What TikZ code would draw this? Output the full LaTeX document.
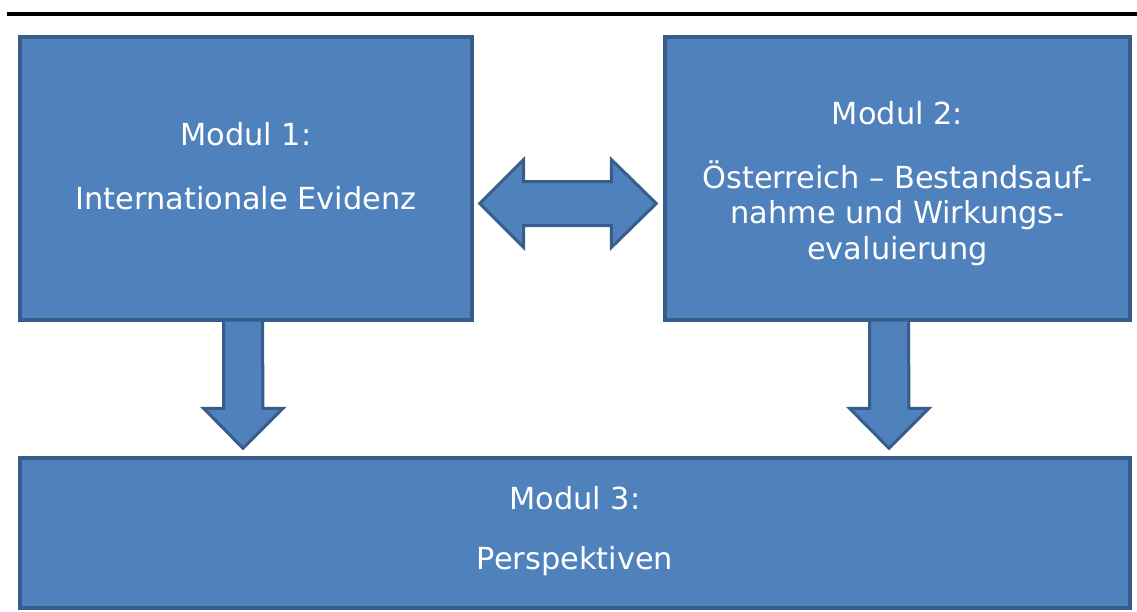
\documentclass[tikz,border=0pt]{standalone}
\usepackage{fontspec}
\setmainfont{DejaVu Sans}
\usepackage{tikz}
\usetikzlibrary{%
  calc,%
  positioning%
}
\definecolor{modfill}{HTML}{4F81BD}
\definecolor{moddraw}{HTML}{385D8A}
\tikzset{>=latex,
  modbox/.style={draw=moddraw,fill=modfill,line width=0.07cm,
    inner sep=0pt},
  modtext/.style={text=white,align=center,inner sep=0pt,
    font=\fontsize{17.3}{20.4}\selectfont},
  blockarrow/.style={draw=moddraw,fill=modfill,line width=0.06cm,
    line join=miter}
}

\begin{document}
\begin{tikzpicture}[x=0.02cm,y=-0.02cm]
        \useasboundingbox (0,0) rectangle (1137,612);
        \draw[line width=0.08cm] (7,14) -- (1137,14);
        % modules
        \node[modbox,minimum width=9.04cm,minimum height=5.66cm] (m1)
        at (246,178.5) {};
        \node[modbox,minimum width=9.3cm,minimum height=5.66cm] (m2)
        at (897.5,178.5) {};
        \node[modbox,minimum width=22.2cm,minimum height=3cm] (m3)
        at (575,533) {};
        \node[modtext] (m1txt) at ($(m1.center)+(0,-12.5)$)
        {Modul 1:\\[16pt] Internationale Evidenz};
        \node[modtext] (m2txt) at ($(m2.center)+(0,5)$)
        {Modul 2:\\[16pt] Österreich – Bestandsauf-\\
        nahme und Wirkungs-\\ evaluierung};
        \node[modtext] (m3txt) at ($(m3.center)+(0,-2)$)
        {Modul 3:\\[13.5pt] Perspektiven};
        % double arrow between 1 and 2
        \coordinate (dl) at ($(m1.east)+(6,25)$);
        \coordinate (dr) at ($(m2.west)+(-7,25)$);
        \draw[blockarrow] (dl) -- ++(44,-44) -- ++(0,22) -- ($(dr)+(-45,-22)$)
        -- ++(0,-22) -- (dr) -- ++(-45,44) -- ++(0,-22)
        -- ($(dl)+(44,22)$) -- ++(0,22) -- cycle;
        % down arrows
        \coordinate (a1) at ($(m1.south)+(-3,0)$);
        \coordinate (t1) at ($(a1 |- m3.north)+(0,-8)$);
        \draw[blockarrow] ($(a1)+(-19.5,0)$) -- ($(t1)+(-19.5,-40)$)
        -- ++(-20,0) -- (t1) -- ($(t1)+(40,-40)$) -- ++(-20,0)
        -- ($(a1)+(19.5,0)$);
        \coordinate (a2) at ($(m2.south)+(-8.5,0)$);
        \coordinate (t2) at ($(a2 |- m3.north)+(0,-8)$);
        \draw[blockarrow] ($(a2)+(-19.5,0)$) -- ($(t2)+(-19.5,-40)$)
        -- ++(-20,0) -- (t2) -- ($(t2)+(40,-40)$) -- ++(-20,0)
        -- ($(a2)+(19.5,0)$);
      \end{tikzpicture}
\end{document}
